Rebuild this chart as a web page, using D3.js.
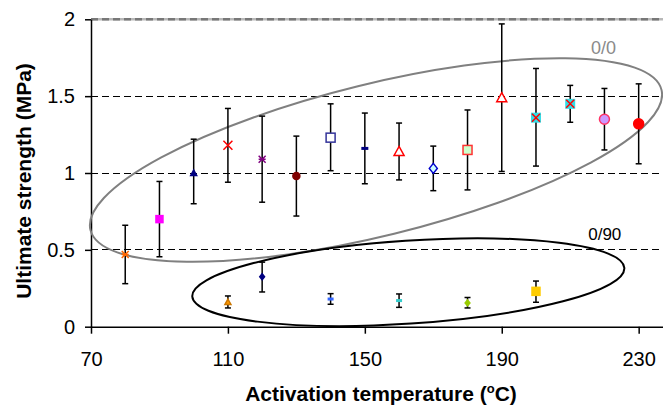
<!DOCTYPE html>
<html lang="en">
<head>
<meta charset="UTF-8">
<title>Ultimate strength vs activation temperature</title>
<script src="https://d3js.org/d3.v7.min.js"></script>
<style>
  body { margin: 0; background: #fff; }
  svg { display: block; font-family: "Liberation Sans", Arial, sans-serif; }
  .axis text { font-size: 20px; fill: #000; }
  .axis path, .axis line { stroke: #000; stroke-width: 1.5px; }
  .axis-title { font-size: 21px; font-weight: bold; fill: #000; }
</style>
</head>
<body>
<div id="chart"></div>
<script>
// 0/0 laminates: temperature, mean strength, error bar top / bottom
const temps00 = [80, 90, 100, 110, 120, 130, 140, 150, 160, 170, 180, 190, 200, 210, 220, 230];
const mean00  = [0.47, 0.70, 1.00, 1.18, 1.09, 0.98, 1.23, 1.16, 1.14, 1.03, 1.15, 1.49, 1.36, 1.45, 1.35, 1.32];
const high00  = [0.66, 0.945, 1.22, 1.42, 1.37, 1.24, 1.45, 1.39, 1.325, 1.175, 1.41, 1.97, 1.68, 1.57, 1.55, 1.58];
const low00   = [0.28, 0.455, 0.80, 0.94, 0.81, 0.72, 1.015, 0.93, 0.955, 0.885, 0.89, 1.01, 1.045, 1.33, 1.15, 1.06];

// 0/90 laminates
const temps90 = [110, 120, 140, 160, 180, 200];
const mean90  = [0.16, 0.325, 0.18, 0.17, 0.155, 0.23];
const high90  = [0.20, 0.42, 0.215, 0.213, 0.19, 0.297];
const low90   = [0.122, 0.226, 0.146, 0.126, 0.122, 0.159];

const xTicks = [70, 110, 150, 190, 230];
const yTicks = [0, 0.5, 1, 1.5, 2];

// marker look for each point
const style00 = [
  { shape: "star",     fill: "none",    stroke: "#FF6600", size: 7 },
  { shape: "square",   fill: "#FF00FF", stroke: "#FF00FF", size: 7 },
  { shape: "triangle", fill: "#000080", stroke: "#000080", size: 6 },
  { shape: "x",        fill: "none",    stroke: "#FF0000", size: 9 },
  { shape: "star",     fill: "none",    stroke: "#800080", size: 7 },
  { shape: "circle",   fill: "#800000", stroke: "#800000", size: 7 },
  { shape: "square",   fill: "#FFFFFF", stroke: "#333399", size: 9 },
  { shape: "dash",     fill: "#000080", stroke: "none",    size: 7 },
  { shape: "triangle", fill: "#FFFFFF", stroke: "#FF0000", size: 10 },
  { shape: "diamond",  fill: "#CCFFFF", stroke: "#0000CC", size: 10 },
  { shape: "square",   fill: "#CCFFCC", stroke: "#FF3333", size: 9 },
  { shape: "triangle", fill: "#FFFFFF", stroke: "#FF0000", size: 10 },
  { shape: "squarex",  fill: "#33DDE6", stroke: "#FF0000", size: 10 },
  { shape: "squarex",  fill: "#33DDE6", stroke: "#FF0000", size: 10 },
  { shape: "circle",   fill: "#CC99FF", stroke: "#FF3366", size: 10 },
  { shape: "circle",   fill: "#FF0000", stroke: "#FF0000", size: 10 }
];
const style90 = [
  { shape: "triangle", fill: "#FF9900", stroke: "#CC7700", size: 6 },
  { shape: "diamond",  fill: "#000080", stroke: "#000080", size: 6 },
  { shape: "dash",     fill: "#3366FF", stroke: "none",    size: 6 },
  { shape: "dash",     fill: "#33CCCC", stroke: "none",    size: 6 },
  { shape: "diamond",  fill: "#99CC00", stroke: "#99CC00", size: 6 },
  { shape: "square",   fill: "#FFCC00", stroke: "#FFCC00", size: 8 }
];

const W = 663, H = 409;
const svg = d3.select("#chart").append("svg")
  .attr("width", W).attr("height", H);

const x = d3.scaleLinear().domain([70, 240]).range([91, 672.9]);
const y = d3.scaleLinear().domain([0, 2]).range([326.7, 19.3]);

// gridlines
svg.append("g").selectAll("line")
  .data([0.5, 1, 1.5])
  .enter().append("line")
  .attr("x1", x(70)).attr("x2", W)
  .attr("y1", d => y(d)).attr("y2", d => y(d))
  .attr("stroke", "#000").attr("stroke-width", 1)
  .attr("shape-rendering", "crispEdges")
  .attr("stroke-dasharray", "7,4");

// top border line at 2
svg.append("line")
  .attr("x1", x(70)).attr("x2", W).attr("y1", y(2)).attr("y2", y(2))
  .attr("stroke", "#b8b8b8").attr("stroke-width", 2.5);
svg.append("line")
  .attr("x1", x(70)).attr("x2", W).attr("y1", y(2)).attr("y2", y(2))
  .attr("stroke", "#787878").attr("stroke-width", 2.5)
  .attr("stroke-dasharray", "7,4");

// axes
svg.append("g")
  .attr("class", "axis")
  .attr("transform", "translate(" + x(70) + ",0)")
  .call(d3.axisLeft(y).tickValues(yTicks).tickSize(6).tickSizeOuter(0)
    .tickPadding(10).tickFormat(d3.format("")));

svg.append("g")
  .attr("class", "axis")
  .attr("transform", "translate(0," + y(0) + ")")
  .call(d3.axisBottom(x).tickValues(xTicks).tickSize(7).tickSizeOuter(0)
    .tickPadding(18).tickFormat(d3.format("d")));

svg.selectAll(".axis text").attr("font-family", null).attr("font-size", null);

// ellipses round the two groups
svg.append("ellipse")
  .attr("cx", x(153.26)).attr("cy", y(1.0846))
  .attr("rx", 294).attr("ry", 76)
  .attr("transform", "rotate(-13.8," + x(153.26) + "," + y(1.0846) + ")")
  .attr("fill", "none").attr("stroke", "#808080").attr("stroke-width", 2);

svg.append("ellipse")
  .attr("cx", x(162.7)).attr("cy", y(0.2895))
  .attr("rx", 216.5).attr("ry", 41.5)
  .attr("transform", "rotate(-3.8," + x(162.7) + "," + y(0.2895) + ")")
  .attr("fill", "none").attr("stroke", "#000").attr("stroke-width", 2);

svg.append("text")
  .attr("x", x(219.7)).attr("y", y(1.774))
  .attr("text-anchor", "middle")
  .attr("font-size", 18).attr("fill", "#8a8a8a")
  .text("0/0");

svg.append("text")
  .attr("x", x(220.1)).attr("y", y(0.561))
  .attr("text-anchor", "middle")
  .attr("font-size", 17).attr("fill", "#000")
  .text("0/90");

// error bars
function errorBars(temps, high, low) {
  const g = svg.append("g").attr("stroke", "#000").attr("stroke-width", 1.5);
  temps.forEach((t, i) => {
    const cx = x(t);
    g.append("line").attr("x1", cx).attr("x2", cx)
      .attr("y1", y(high[i])).attr("y2", y(low[i]));
    [high[i], low[i]].forEach(v => {
      g.append("line").attr("x1", cx - 3).attr("x2", cx + 3)
        .attr("y1", y(v)).attr("y2", y(v));
    });
  });
}

function drawMarker(g, cx, cy, s) {
  const h = s.size / 2;
  if (s.shape === "square" || s.shape === "squarex") {
    g.append("rect").attr("x", cx - h).attr("y", cy - h)
      .attr("width", s.size).attr("height", s.size)
      .attr("fill", s.fill)
      .attr("stroke", s.shape === "squarex" ? "none" : s.stroke)
      .attr("stroke-width", 1.5);
    if (s.shape === "squarex") {
      g.append("path")
        .attr("d", `M${cx - h + 1},${cy - h + 1}L${cx + h - 1},${cy + h - 1}M${cx + h - 1},${cy - h + 1}L${cx - h + 1},${cy + h - 1}`)
        .attr("stroke", s.stroke).attr("stroke-width", 1.5).attr("fill", "none");
    }
  } else if (s.shape === "circle") {
    g.append("circle").attr("cx", cx).attr("cy", cy).attr("r", h)
      .attr("fill", s.fill).attr("stroke", s.stroke).attr("stroke-width", 1.5);
  } else if (s.shape === "triangle") {
    g.append("path")
      .attr("d", `M${cx},${cy - h}L${cx + h},${cy + h * 0.8}L${cx - h},${cy + h * 0.8}Z`)
      .attr("fill", s.fill).attr("stroke", s.stroke).attr("stroke-width", 1.5);
  } else if (s.shape === "diamond") {
    g.append("path")
      .attr("d", `M${cx},${cy - h}L${cx + h * 0.8},${cy}L${cx},${cy + h}L${cx - h * 0.8},${cy}Z`)
      .attr("fill", s.fill).attr("stroke", s.stroke).attr("stroke-width", 1.5);
  } else if (s.shape === "x" || s.shape === "star") {
    let d = `M${cx - h},${cy - h}L${cx + h},${cy + h}M${cx + h},${cy - h}L${cx - h},${cy + h}`;
    if (s.shape === "star") d += `M${cx - h},${cy}L${cx + h},${cy}`;
    g.append("path").attr("d", d)
      .attr("stroke", s.stroke).attr("stroke-width", 1.5).attr("fill", "none");
  } else if (s.shape === "dash") {
    g.append("rect").attr("x", cx - h).attr("y", cy - 1.5)
      .attr("width", s.size).attr("height", 3).attr("fill", s.fill);
  }
}

function markers(temps, means, styles) {
  const g = svg.append("g");
  temps.forEach((t, i) => drawMarker(g, x(t), y(means[i]), styles[i]));
}

errorBars(temps00, high00, low00);
errorBars(temps90, high90, low90);
markers(temps00, mean00, style00);
markers(temps90, mean90, style90);

// axis titles
svg.append("text")
  .attr("class", "axis-title")
  .attr("transform", "translate(31,181) rotate(-90)")
  .attr("text-anchor", "middle")
  .text("Ultimate strength (MPa)");

const xt = svg.append("text")
  .attr("class", "axis-title")
  .attr("x", 381).attr("y", 401)
  .attr("text-anchor", "middle");
xt.append("tspan").text("Activation temperature (");
xt.append("tspan").attr("font-size", 13).attr("dy", -8).text("o");
xt.append("tspan").attr("dy", 8).text("C)");
</script>
</body>
</html>
